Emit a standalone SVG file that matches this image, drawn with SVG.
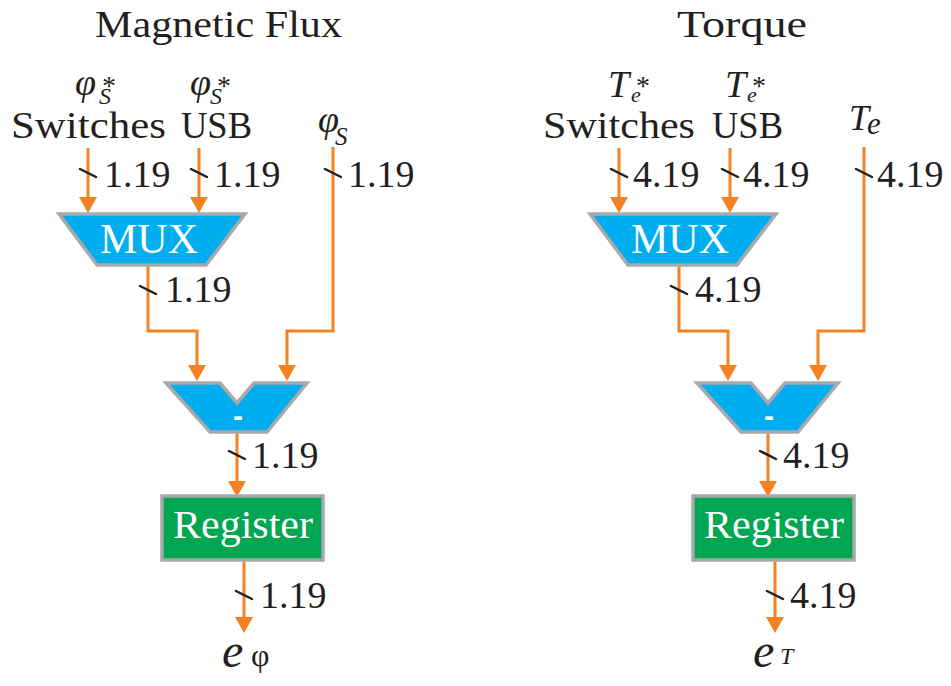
<svg xmlns="http://www.w3.org/2000/svg" width="951" height="686" viewBox="0 0 951 686">
<style>
.t{font-family:"Liberation Serif","Times New Roman",serif;fill:#231f20}
.i{font-style:italic}
.w{font-family:"Liberation Serif","Times New Roman",serif;fill:#ffffff}
.mux{fill:#00aeef;stroke:#a7a9ac;stroke-width:3.5;stroke-linejoin:miter}
.reg{fill:#00a651;stroke:#a7a9ac;stroke-width:3.5}
.c{fill:none;stroke:#f58220;stroke-width:3}
.k{stroke:#231f20;stroke-width:2.5;stroke-linecap:round}
.lab{font-size:38px}
</style>
<defs>
<marker id="ah" viewBox="0 0 16 18" refX="0" refY="9" markerWidth="16" markerHeight="18" markerUnits="userSpaceOnUse" orient="auto">
<path d="M0,0 L16,9 L0,18 z" fill="#f58220"/>
</marker>
</defs>
<rect width="951" height="686" fill="#ffffff"/>

<g id="titles">
<text class="t" x="95" y="37" font-size="38" textLength="247" lengthAdjust="spacingAndGlyphs">Magnetic Flux</text>
<text class="t" x="677" y="37" font-size="38" textLength="130" lengthAdjust="spacingAndGlyphs">Torque</text>
</g>

<g id="inputs-left">
<text class="t" font-size="38"><tspan class="i" x="75" y="95">φ</tspan><tspan class="i" x="99" y="104" font-size="24">S</tspan><tspan x="102" y="95" font-size="28">*</tspan></text>
<text class="t" x="11" y="138" font-size="38" textLength="155" lengthAdjust="spacingAndGlyphs">Switches</text>
<text class="t" font-size="38"><tspan class="i" x="190" y="95">φ</tspan><tspan class="i" x="210" y="104" font-size="24">S</tspan><tspan x="217" y="95" font-size="28">*</tspan></text>
<text class="t" x="181" y="138" font-size="38" textLength="71" lengthAdjust="spacingAndGlyphs">USB</text>
<text class="t" font-size="38"><tspan class="i" x="318" y="132">φ</tspan><tspan class="i" x="335" y="145" font-size="25">S</tspan></text>
</g>

<g id="inputs-right">
<text class="t" font-size="38"><tspan class="i" x="608" y="97">T</tspan><tspan class="i" x="631" y="102" font-size="22">e</tspan><tspan x="636" y="95" font-size="28">*</tspan></text>
<text class="t" x="543" y="138" font-size="38" textLength="152" lengthAdjust="spacingAndGlyphs">Switches</text>
<text class="t" font-size="38"><tspan class="i" x="725" y="97">T</tspan><tspan class="i" x="747" y="102" font-size="22">e</tspan><tspan x="752" y="95" font-size="28">*</tspan></text>
<text class="t" x="712" y="138" font-size="38" textLength="71" lengthAdjust="spacingAndGlyphs">USB</text>
<text class="t" font-size="36"><tspan class="i" x="849" y="130">T</tspan><tspan class="i" x="867" y="134" font-size="31">e</tspan></text>
</g>

<g id="connectors">
<path class="c" marker-end="url(#ah)" d="M88 148 V197"/>
<path class="c" marker-end="url(#ah)" d="M199 148 V197"/>
<path class="c" marker-end="url(#ah)" d="M333 147 V331 H287 V365"/>
<path class="c" marker-end="url(#ah)" d="M148 266 V331 H197 V365"/>
<path class="c" marker-end="url(#ah)" d="M237 433 V481"/>
<path class="c" marker-end="url(#ah)" d="M244 561 V617"/>
<path class="c" marker-end="url(#ah)" d="M619 148 V197"/>
<path class="c" marker-end="url(#ah)" d="M730 148 V197"/>
<path class="c" marker-end="url(#ah)" d="M864 147 V331 H818 V365"/>
<path class="c" marker-end="url(#ah)" d="M679 266 V331 H728 V365"/>
<path class="c" marker-end="url(#ah)" d="M768 433 V481"/>
<path class="c" marker-end="url(#ah)" d="M775 561 V617"/>
<g id="ticks">
<line class="k" x1="80" y1="169" x2="96" y2="177"/>
<line class="k" x1="191" y1="169" x2="207" y2="177"/>
<line class="k" x1="325" y1="169" x2="341" y2="177"/>
<line class="k" x1="140" y1="286" x2="156" y2="294"/>
<line class="k" x1="229" y1="451" x2="245" y2="459"/>
<line class="k" x1="236" y1="591" x2="252" y2="599"/>
<line class="k" x1="611" y1="169" x2="627" y2="177"/>
<line class="k" x1="722" y1="169" x2="738" y2="177"/>
<line class="k" x1="856" y1="169" x2="872" y2="177"/>
<line class="k" x1="671" y1="286" x2="687" y2="294"/>
<line class="k" x1="760" y1="451" x2="776" y2="459"/>
<line class="k" x1="767" y1="591" x2="783" y2="599"/>
</g>
<g id="widths">
<text class="t lab" x="104" y="187">1.19</text>
<text class="t lab" x="214" y="187">1.19</text>
<text class="t lab" x="348" y="187">1.19</text>
<text class="t lab" x="165" y="302">1.19</text>
<text class="t lab" x="252" y="468">1.19</text>
<text class="t lab" x="260" y="608">1.19</text>
<text class="t lab" x="633" y="187">4.19</text>
<text class="t lab" x="743" y="187">4.19</text>
<text class="t lab" x="877" y="187">4.19</text>
<text class="t lab" x="695" y="302">4.19</text>
<text class="t lab" x="783" y="468">4.19</text>
<text class="t lab" x="790" y="608">4.19</text>
</g>
</g>

<g id="mux-left">
<polygon class="mux" points="59,214 245,214 206,265 97,265"/>
<text class="w" x="100" y="253" font-size="42" textLength="98" lengthAdjust="spacingAndGlyphs">MUX</text>
</g>
<g id="mux-right">
<polygon class="mux" points="590,214 776,214 737,265 628,265"/>
<text class="w" x="631" y="253" font-size="42" textLength="98" lengthAdjust="spacingAndGlyphs">MUX</text>
</g>

<g id="sub-left">
<polygon class="mux" points="166,383 220,383 237,403 254,383 307,383 267,432 210,432"/>
<text x="238" y="426" font-family="Liberation Sans, Arial, sans-serif" font-weight="bold" font-size="30" fill="#ffffff" text-anchor="middle">-</text>
</g>
<g id="sub-right">
<polygon class="mux" points="697,383 751,383 768,403 785,383 838,383 798,432 741,432"/>
<text x="769" y="426" font-family="Liberation Sans, Arial, sans-serif" font-weight="bold" font-size="30" fill="#ffffff" text-anchor="middle">-</text>
</g>

<g id="reg-left">
<rect class="reg" x="162" y="496" width="161" height="64"/>
<text class="w" x="173" y="538" font-size="39" textLength="140" lengthAdjust="spacingAndGlyphs">Register</text>
</g>
<g id="reg-right">
<rect class="reg" x="693" y="496" width="161" height="64"/>
<text class="w" x="704" y="538" font-size="39" textLength="140" lengthAdjust="spacingAndGlyphs">Register</text>
</g>

<g id="out-left">
<text class="t" font-size="48"><tspan class="i" x="222" y="667">e</tspan><tspan x="251" y="666" font-size="32">φ</tspan></text>
</g>
<g id="out-right">
<text class="t" font-size="48"><tspan class="i" x="753" y="667">e</tspan><tspan class="i" x="780" y="664" font-size="24">T</tspan></text>
</g>
</svg>
